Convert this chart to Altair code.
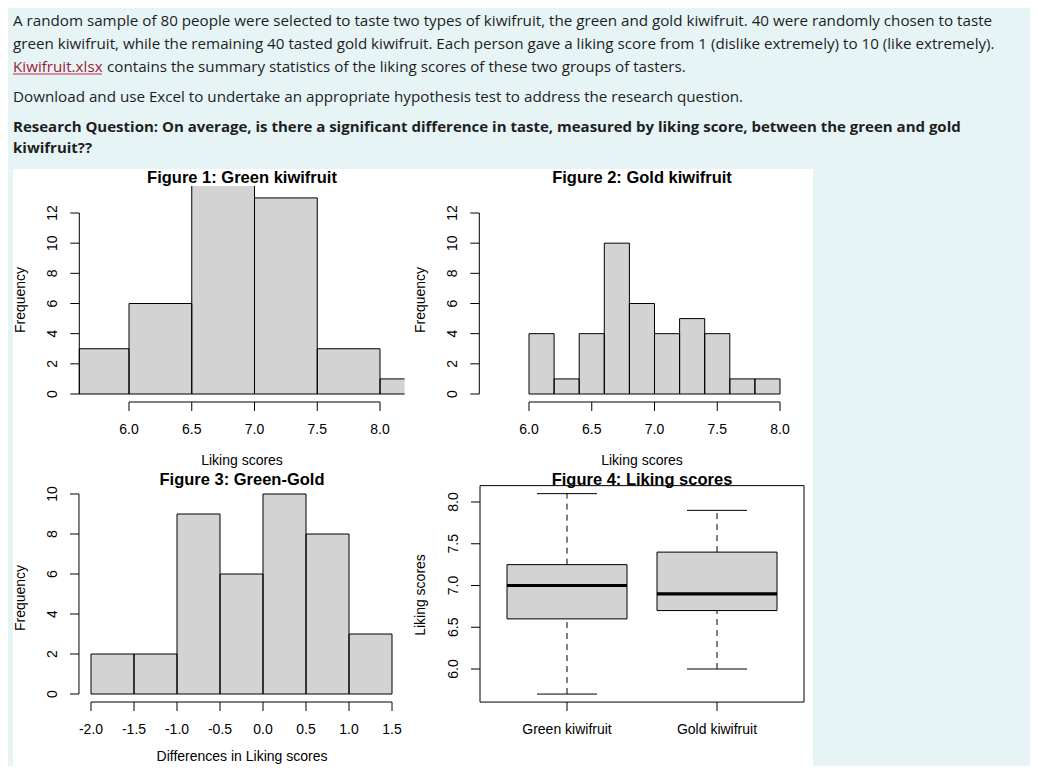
import altair as alt
import pandas as pd

# ---------------- text content ----------------
intro_lines = [
    "A random sample of 80 people were selected to taste two types of kiwifruit, the green and gold kiwifruit. 40 were randomly chosen to taste",
    "green kiwifruit, while the remaining 40 tasted gold kiwifruit. Each person gave a liking score from 1 (dislike extremely) to 10 (like extremely).",
]
link_text = "Kiwifruit.xlsx"
line3_rest = "contains the summary statistics of the liking scores of these two groups of tasters."
line4 = "Download and use Excel to undertake an appropriate hypothesis test to address the research question."
question_lines = [
    "Research Question: On average, is there a significant difference in taste, measured by liking score, between the green and gold",
    "kiwifruit??",
]
panel_titles = ["Figure 1: Green kiwifruit", "Figure 2: Gold kiwifruit",
                "Figure 3: Green-Gold", "Figure 4: Liking scores"]

# ---------------- data ----------------
green_breaks = [5.5, 6.0, 6.5, 7.0, 7.5, 8.0, 8.5]
green_counts = [3, 6, 14, 13, 3, 1]
gold_breaks = [6.0, 6.2, 6.4, 6.6, 6.8, 7.0, 7.2, 7.4, 7.6, 7.8, 8.0]
gold_counts = [4, 1, 4, 10, 6, 4, 5, 4, 1, 1]
diff_breaks = [-2.0, -1.5, -1.0, -0.5, 0.0, 0.5, 1.0, 1.5]
diff_counts = [2, 2, 9, 6, 10, 8, 3]

box_groups = ["Green kiwifruit", "Gold kiwifruit"]
box_low = [5.7, 6.0]
box_q1 = [6.6, 6.7]
box_median = [7.0, 6.9]
box_q3 = [7.25, 7.4]
box_high = [8.1, 7.9]

hist_x_ticks = [6.0, 6.5, 7.0, 7.5, 8.0]
hist_x_labels = ["6.0", "6.5", "7.0", "7.5", "8.0"]
freq_ticks = [0, 2, 4, 6, 8, 10, 12]
freq_labels = ["0", "2", "4", "6", "8", "10", "12"]
diff_x_ticks = [-2.0, -1.5, -1.0, -0.5, 0.0, 0.5, 1.0, 1.5]
diff_x_labels = ["-2.0", "-1.5", "-1.0", "-0.5", "0.0", "0.5", "1.0", "1.5"]
diff_y_ticks = [0, 2, 4, 6, 8, 10]
diff_y_labels = ["0", "2", "4", "6", "8", "10"]
box_y_ticks = [6.0, 6.5, 7.0, 7.5, 8.0]
box_y_labels = ["6.0", "6.5", "7.0", "7.5", "8.0"]

# ---------------- style ----------------
BG = "#e6f4f6"
TXT = "#1e1e1e"
LINK = "#9e1c35"
INK = "#000000"
BAR = "#d3d3d3"
RFONT = "Liberation Sans"
HFONT = "Open Sans"
HSIZE = 15.2
HBSIZE = 15.0
AX = 14
MAIN = 16.5
TICK = 9
XLAB = 28
YLAB = 26
M = 8  # page margin
W, H = 1022, 758

one = pd.DataFrame({"k": [0]})


def lin_scale(dom, v0, p0, v1, p1):
    k = (p1 - p0) / (v1 - v0)
    rng = [p0 + (d - v0) * k - M for d in dom]
    return alt.Scale(domain=list(dom), range=rng, clamp=True, nice=False, zero=False)


def label(txt, x, y, size=AX, bold=False, angle=0, font=RFONT, color=INK,
          align="center", baseline="middle"):
    kw = dict(align=align, baseline=baseline, font=font, fontSize=size,
              fontWeight="bold" if bold else "normal", color=color)
    if angle:
        kw["angle"] = angle
    return alt.Chart(one).mark_text(**kw).encode(
        x=alt.value(x - M), y=alt.value(y - M), text=alt.value(txt))


def hist_layers(breaks, counts, xsc, ysc, xdom, ydom):
    bars = pd.DataFrame({"x0": breaks[:-1], "x1": breaks[1:], "n": counts})
    bars["b"] = 0
    fill = alt.Chart(bars).mark_rect(fill=BAR, strokeWidth=0).encode(
        x=alt.X("x0:Q", scale=xsc, axis=None), x2="x1:Q",
        y=alt.Y("b:Q", scale=ysc, axis=None), y2="n:Q")
    edges = []
    for a, c, n in zip(breaks[:-1], breaks[1:], counts):
        edges += [(a, a, 0, n), (c, c, 0, n), (a, c, n, n), (a, c, 0, 0)]
    e = pd.DataFrame(edges, columns=["xa", "xb", "ya", "yb"])
    e = e[(e.xa <= xdom[1]) & (e.ya <= ydom[1])]
    rules = alt.Chart(e).mark_rule(color=INK, strokeWidth=1).encode(
        x=alt.X("xa:Q", scale=xsc, axis=None), x2="xb:Q",
        y=alt.Y("ya:Q", scale=ysc, axis=None), y2="yb:Q")
    return [fill, rules]


def x_axis(ticks, labels, xsc, ysc, ybase, line=True):
    df = pd.DataFrame({"v": ticks, "lab": labels, "b": [ybase] * len(ticks)})
    out = []
    if line:
        ldf = pd.DataFrame({"a": [ticks[0]], "c": [ticks[-1]], "b": [ybase]})
        out.append(alt.Chart(ldf).mark_rule(color=INK).encode(
            x=alt.X("a:Q", scale=xsc, axis=None), x2="c:Q",
            y=alt.Y("b:Q", scale=ysc, axis=None)))
    out.append(alt.Chart(df).mark_rule(color=INK, y2Offset=TICK).encode(
        x=alt.X("v:Q", scale=xsc, axis=None),
        y=alt.Y("b:Q", scale=ysc, axis=None), y2="b:Q"))
    out.append(alt.Chart(df).mark_text(font=RFONT, fontSize=AX, color=INK, align="center",
                                       baseline="middle", yOffset=XLAB).encode(
        x=alt.X("v:Q", scale=xsc, axis=None),
        y=alt.Y("b:Q", scale=ysc, axis=None), text="lab:N"))
    return out


def y_axis(ticks, labels, xsc, ysc, xbase, line=True):
    df = pd.DataFrame({"v": ticks, "lab": labels, "b": [xbase] * len(ticks)})
    out = []
    if line:
        ldf = pd.DataFrame({"a": [ticks[0]], "c": [ticks[-1]], "b": [xbase]})
        out.append(alt.Chart(ldf).mark_rule(color=INK).encode(
            x=alt.X("b:Q", scale=xsc, axis=None),
            y=alt.Y("a:Q", scale=ysc, axis=None), y2="c:Q"))
    out.append(alt.Chart(df).mark_rule(color=INK, x2Offset=-TICK).encode(
        x=alt.X("b:Q", scale=xsc, axis=None), x2="b:Q",
        y=alt.Y("v:Q", scale=ysc, axis=None)))
    out.append(alt.Chart(df).mark_text(font=RFONT, fontSize=AX, color=INK, align="center",
                                       baseline="middle", angle=270, xOffset=-YLAB).encode(
        x=alt.X("b:Q", scale=xsc, axis=None),
        y=alt.Y("v:Q", scale=ysc, axis=None), text="lab:N"))
    return out


layers = []

# white picture area
layers.append(alt.Chart(one).mark_rect(fill="white").encode(
    x=alt.value(13 - M), x2=alt.value(813 - M), y=alt.value(169 - M), y2=alt.value(769 - M)))

# header text
layers.append(label(intro_lines[0], 13, 25.5, size=HSIZE, font=HFONT, color=TXT, align="left", baseline="alphabetic"))
layers.append(label(intro_lines[1], 13, 49, size=HSIZE, font=HFONT, color=TXT, align="left", baseline="alphabetic"))
layers.append(label(link_text, 13, 71.5, size=HSIZE, font=HFONT, color=LINK, align="left", baseline="alphabetic"))
layers.append(alt.Chart(one).mark_rule(color="#c8283f", strokeWidth=1).encode(
    x=alt.value(13 - M), x2=alt.value(102 - M), y=alt.value(74 - M)))
layers.append(label(line3_rest, 107, 71.5, size=HSIZE, font=HFONT, color=TXT, align="left", baseline="alphabetic"))
layers.append(label(line4, 13, 101.5, size=HSIZE, font=HFONT, color=TXT, align="left", baseline="alphabetic"))
layers.append(label(question_lines[0], 13, 131.5, size=HBSIZE, bold=True, font=HFONT, color=TXT, align="left", baseline="alphabetic"))
layers.append(label(question_lines[1], 13, 153, size=HBSIZE, bold=True, font=HFONT, color=TXT, align="left", baseline="alphabetic"))

# ---------- Panel 1: green histogram ----------
hx_dom = (5.604, 8.196)
hy_dom = (-0.53, 13.79)
xs1 = lin_scale(hx_dom, 6.0, 129, 8.0, 380)
ys1 = lin_scale(hy_dom, 0, 394, 12, 213)
layers += hist_layers(green_breaks, green_counts, xs1, ys1, hx_dom, hy_dom)
layers += x_axis(hist_x_ticks, hist_x_labels, xs1, ys1, hy_dom[0])
layers += y_axis(freq_ticks, freq_labels, xs1, ys1, hx_dom[0])

# ---------- Panel 2: gold histogram ----------
xs2 = lin_scale(hx_dom, 6.0, 529, 8.0, 780)
ys2 = lin_scale(hy_dom, 0, 394, 12, 213)
layers += hist_layers(gold_breaks, gold_counts, xs2, ys2, hx_dom, hy_dom)
layers += x_axis(hist_x_ticks, hist_x_labels, xs2, ys2, hy_dom[0])
layers += y_axis(freq_ticks, freq_labels, xs2, ys2, hx_dom[0])

# ---------- Panel 3: differences histogram ----------
dx_dom = (-2.14, 1.64)
dy_dom = (-0.4, 10.4)
xs3 = lin_scale(dx_dom, -2.0, 91, 1.5, 392)
ys3 = lin_scale(dy_dom, 0, 694, 10, 494)
layers += hist_layers(diff_breaks, diff_counts, xs3, ys3, dx_dom, dy_dom)
layers += x_axis(diff_x_ticks, diff_x_labels, xs3, ys3, dy_dom[0])
layers += y_axis(diff_y_ticks, diff_y_labels, xs3, ys3, dx_dom[0])

# ---------- Panel 4: boxplot ----------
bx_dom = (0.42, 2.58)
by_dom = (5.604, 8.196)
xs4 = lin_scale(bx_dom, 1, 567, 2, 717)
ys4 = lin_scale(by_dom, 6.0, 669, 8.0, 502)
pos = list(range(1, len(box_groups) + 1))
bdf = pd.DataFrame({"g": box_groups, "pos": pos, "lo": box_low, "q1": box_q1,
                    "med": box_median, "q3": box_q3, "hi": box_high})
bdf["l"] = bdf["pos"] - 0.4
bdf["r"] = bdf["pos"] + 0.4
bdf["cl"] = bdf["pos"] - 0.2
bdf["cr"] = bdf["pos"] + 0.2
X4 = lambda f: alt.X(f, scale=xs4, axis=None)
Y4 = lambda f: alt.Y(f, scale=ys4, axis=None)
layers.append(alt.Chart(bdf).mark_rule(color=INK, strokeDash=[6, 5]).encode(x=X4("pos:Q"), y=Y4("q3:Q"), y2="hi:Q"))
layers.append(alt.Chart(bdf).mark_rule(color=INK, strokeDash=[6, 5]).encode(x=X4("pos:Q"), y=Y4("lo:Q"), y2="q1:Q"))
layers.append(alt.Chart(bdf).mark_rule(color=INK).encode(x=X4("cl:Q"), x2="cr:Q", y=Y4("hi:Q")))
layers.append(alt.Chart(bdf).mark_rule(color=INK).encode(x=X4("cl:Q"), x2="cr:Q", y=Y4("lo:Q")))
layers.append(alt.Chart(bdf).mark_rect(fill=BAR, stroke=INK, strokeWidth=1).encode(
    x=X4("l:Q"), x2="r:Q", y=Y4("q1:Q"), y2="q3:Q"))
layers.append(alt.Chart(bdf).mark_rule(color=INK, strokeWidth=3.2).encode(x=X4("l:Q"), x2="r:Q", y=Y4("med:Q")))
frame = pd.DataFrame({"a": [bx_dom[0]], "c": [bx_dom[1]], "p": [by_dom[0]], "q": [by_dom[1]]})
layers.append(alt.Chart(frame).mark_rect(fill=None, stroke=INK, strokeWidth=1).encode(
    x=X4("a:Q"), x2="c:Q", y=Y4("p:Q"), y2="q:Q"))
layers += x_axis(pos, box_groups, xs4, ys4, by_dom[0], line=False)
layers += y_axis(box_y_ticks, box_y_labels, xs4, ys4, bx_dom[0], line=False)

# ---------- titles ----------
layers.append(label(panel_titles[0], 242, 183, size=MAIN, bold=True, baseline="alphabetic"))
layers.append(label(panel_titles[1], 642, 183, size=MAIN, bold=True, baseline="alphabetic"))
layers.append(label(panel_titles[2], 242, 484.5, size=MAIN, bold=True, baseline="alphabetic"))
layers.append(label(panel_titles[3], 642, 484.5, size=MAIN, bold=True, baseline="alphabetic"))
layers.append(label("Liking scores", 242, 461))
layers.append(label("Liking scores", 642, 461))
layers.append(label("Differences in Liking scores", 242, 757))
layers.append(label("Frequency", 21, 300, angle=270))
layers.append(label("Frequency", 421, 300, angle=270))
layers.append(label("Frequency", 21, 598, angle=270))
layers.append(label("Liking scores", 421, 595, angle=270))

chart = (
    alt.layer(*layers)
    .resolve_scale(x="independent", y="independent")
    .properties(width=W, height=H, padding=0, autosize=alt.AutoSizeParams(type="none"))
    .configure(background=BG)
    .configure_view(stroke=None)
)

chart.save("out.html", embed_options={"renderer": "svg", "actions": False})
